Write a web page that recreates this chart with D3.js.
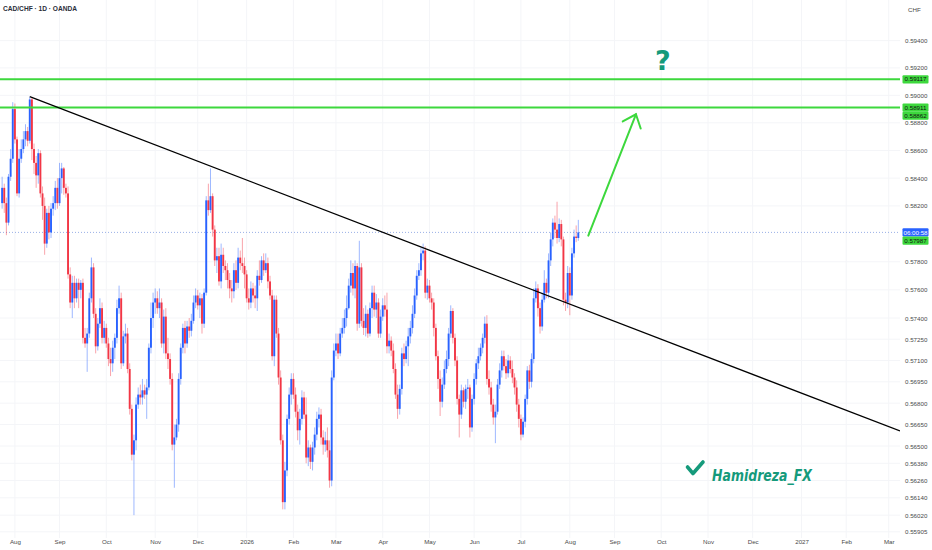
<!DOCTYPE html>
<html>
<head>
<meta charset="utf-8">
<title>CAD/CHF 1D</title>
<script src="https://cdn.jsdelivr.net/npm/d3@7"></script>
<style>
  *{margin:0;padding:0;}
  body{background:#fff;}
  svg{display:block;font-family:"Liberation Sans",Arial,sans-serif;}
  .tick text{fill:#4a4a4a;}
</style>
</head>
<body>
<svg id="chart" width="932" height="550"></svg>
<script>
// daily candles, one per trading day from 2025-07-24 to 2026-08-07
var opens = [
0.5822,0.5833,0.5822,0.5808,0.5841,0.5854,0.5890,0.5868,0.5829,0.5854,
0.5861,0.5868,0.5874,0.5867,0.5897,0.5861,0.5851,0.5842,0.5858,0.5829,
0.5820,0.5793,0.5815,0.5801,0.5818,0.5822,0.5833,0.5822,0.5840,0.5847,
0.5833,0.5829,0.5771,0.5751,0.5765,0.5754,0.5765,0.5760,0.5765,0.5726,
0.5722,0.5729,0.5754,0.5776,0.5743,0.5720,0.5736,0.5747,0.5726,0.5733,
0.5722,0.5711,0.5708,0.5719,0.5726,0.5747,0.5754,0.5708,0.5727,0.5729,
0.5704,0.5676,0.5644,0.5654,0.5679,0.5686,0.5684,0.5689,0.5686,0.5691,
0.5719,0.5740,0.5751,0.5754,0.5747,0.5751,0.5722,0.5741,0.5715,0.5711,
0.5697,0.5651,0.5656,0.5665,0.5697,0.5719,0.5733,0.5722,0.5734,0.5731,
0.5738,0.5751,0.5756,0.5749,0.5754,0.5736,0.5758,0.5824,0.5817,0.5827,
0.5803,0.5781,0.5784,0.5766,0.5785,0.5777,0.5774,0.5767,0.5761,0.5759,
0.5774,0.5765,0.5783,0.5779,0.5777,0.5771,0.5754,0.5751,0.5761,0.5756,
0.5754,0.5770,0.5767,0.5781,0.5774,0.5779,0.5766,0.5756,0.5713,0.5753,
0.5729,0.5698,0.5654,0.5611,0.5633,0.5669,0.5686,0.5697,0.5686,0.5674,
0.5661,0.5669,0.5684,0.5672,0.5642,0.5649,0.5639,0.5649,0.5658,0.5669,
0.5672,0.5656,0.5651,0.5654,0.5647,0.5626,0.5698,0.5717,0.5722,0.5715,
0.5729,0.5733,0.5740,0.5747,0.5763,0.5772,0.5761,0.5777,0.5736,0.5776,
0.5738,0.5733,0.5743,0.5729,0.5747,0.5758,0.5746,0.5751,0.5729,0.5741,
0.5749,0.5746,0.5720,0.5724,0.5717,0.5704,0.5686,0.5676,0.5690,0.5715,
0.5711,0.5720,0.5727,0.5733,0.5743,0.5756,0.5770,0.5774,0.5786,0.5788,
0.5758,0.5763,0.5754,0.5751,0.5733,0.5713,0.5697,0.5681,0.5693,0.5704,
0.5711,0.5729,0.5745,0.5726,0.5710,0.5683,0.5672,0.5689,0.5681,0.5690,
0.5691,0.5663,0.5683,0.5697,0.5708,0.5713,0.5719,0.5726,0.5736,0.5697,
0.5691,0.5679,0.5670,0.5674,0.5693,0.5703,0.5713,0.5706,0.5701,0.5710,
0.5704,0.5698,0.5691,0.5679,0.5669,0.5658,0.5667,0.5683,0.5703,0.5695,
0.5711,0.5754,0.5761,0.5747,0.5734,0.5753,0.5765,0.5758,0.5781,0.5796,
0.5808,0.5803,0.5797,0.5807,0.5796,0.5753,0.5751,0.5772,0.5756,0.5786,
0.5798,0.5797];
var highs = [
0.5841,0.5836,0.5826,0.5843,0.5861,0.5895,0.5894,0.5870,0.5861,0.5868,
0.5874,0.5879,0.5877,0.5899,0.5898,0.5865,0.5856,0.5861,0.5860,0.5834,
0.5826,0.5818,0.5820,0.5822,0.5827,0.5838,0.5840,0.5851,0.5851,0.5848,
0.5836,0.5834,0.5776,0.5770,0.5770,0.5768,0.5768,0.5767,0.5768,0.5733,
0.5733,0.5758,0.5783,0.5779,0.5747,0.5740,0.5754,0.5751,0.5738,0.5736,
0.5726,0.5719,0.5724,0.5729,0.5753,0.5763,0.5758,0.5731,0.5736,0.5733,
0.5708,0.5679,0.5658,0.5684,0.5691,0.5693,0.5697,0.5693,0.5697,0.5722,
0.5751,0.5758,0.5761,0.5759,0.5761,0.5754,0.5746,0.5747,0.5726,0.5715,
0.5701,0.5665,0.5669,0.5701,0.5722,0.5736,0.5738,0.5738,0.5740,0.5743,
0.5756,0.5761,0.5760,0.5758,0.5757,0.5761,0.5827,0.5836,0.5847,0.5829,
0.5806,0.5790,0.5790,0.5793,0.5790,0.5781,0.5779,0.5772,0.5767,0.5779,
0.5781,0.5790,0.5788,0.5797,0.5783,0.5774,0.5761,0.5766,0.5765,0.5763,
0.5774,0.5781,0.5784,0.5786,0.5786,0.5783,0.5770,0.5760,0.5756,0.5756,
0.5733,0.5703,0.5658,0.5639,0.5672,0.5691,0.5701,0.5701,0.5691,0.5679,
0.5676,0.5689,0.5688,0.5684,0.5654,0.5651,0.5653,0.5663,0.5674,0.5677,
0.5676,0.5661,0.5660,0.5663,0.5654,0.5703,0.5722,0.5729,0.5729,0.5733,
0.5740,0.5746,0.5756,0.5768,0.5781,0.5779,0.5781,0.5779,0.5795,0.5779,
0.5747,0.5749,0.5746,0.5751,0.5763,0.5763,0.5757,0.5754,0.5746,0.5754,
0.5756,0.5758,0.5729,0.5727,0.5722,0.5708,0.5693,0.5693,0.5719,0.5722,
0.5724,0.5733,0.5738,0.5749,0.5761,0.5774,0.5779,0.5790,0.5793,0.5791,
0.5768,0.5767,0.5758,0.5754,0.5736,0.5717,0.5703,0.5698,0.5710,0.5717,
0.5733,0.5749,0.5747,0.5729,0.5713,0.5686,0.5693,0.5691,0.5693,0.5697,
0.5693,0.5686,0.5701,0.5711,0.5719,0.5722,0.5729,0.5741,0.5742,0.5703,
0.5695,0.5683,0.5679,0.5697,0.5708,0.5717,0.5717,0.5711,0.5714,0.5713,
0.5710,0.5701,0.5696,0.5683,0.5672,0.5670,0.5686,0.5706,0.5707,0.5715,
0.5761,0.5766,0.5764,0.5751,0.5758,0.5774,0.5768,0.5786,0.5801,0.5811,
0.5813,0.5823,0.5811,0.5810,0.5798,0.5758,0.5777,0.5776,0.5790,0.5803,
0.5806,0.5810];
var lows = [
0.5818,0.5815,0.5799,0.5806,0.5838,0.5851,0.5865,0.5827,0.5826,0.5851,
0.5858,0.5863,0.5863,0.5865,0.5853,0.5843,0.5833,0.5836,0.5826,0.5810,
0.5785,0.5790,0.5796,0.5797,0.5813,0.5817,0.5818,0.5820,0.5829,0.5828,
0.5826,0.5768,0.5747,0.5740,0.5747,0.5751,0.5747,0.5754,0.5722,0.5719,
0.5702,0.5726,0.5751,0.5740,0.5715,0.5717,0.5733,0.5722,0.5722,0.5719,
0.5706,0.5699,0.5702,0.5711,0.5722,0.5743,0.5704,0.5706,0.5722,0.5701,
0.5672,0.5640,0.5602,0.5647,0.5676,0.5679,0.5679,0.5683,0.5669,0.5689,
0.5715,0.5733,0.5743,0.5743,0.5740,0.5719,0.5715,0.5711,0.5704,0.5693,
0.5647,0.5621,0.5654,0.5660,0.5693,0.5715,0.5715,0.5719,0.5726,0.5727,
0.5736,0.5747,0.5746,0.5740,0.5729,0.5733,0.5756,0.5813,0.5815,0.5798,
0.5777,0.5772,0.5763,0.5761,0.5772,0.5767,0.5761,0.5754,0.5751,0.5754,
0.5760,0.5761,0.5774,0.5772,0.5761,0.5751,0.5746,0.5747,0.5751,0.5747,
0.5745,0.5763,0.5765,0.5770,0.5772,0.5761,0.5753,0.5710,0.5706,0.5726,
0.5693,0.5651,0.5606,0.5606,0.5629,0.5665,0.5679,0.5683,0.5670,0.5654,
0.5651,0.5665,0.5669,0.5638,0.5636,0.5634,0.5633,0.5644,0.5654,0.5663,
0.5651,0.5644,0.5646,0.5642,0.5621,0.5622,0.5696,0.5713,0.5711,0.5713,
0.5726,0.5729,0.5734,0.5746,0.5758,0.5756,0.5754,0.5731,0.5733,0.5734,
0.5728,0.5727,0.5726,0.5727,0.5740,0.5741,0.5740,0.5726,0.5726,0.5738,
0.5741,0.5715,0.5715,0.5713,0.5701,0.5683,0.5669,0.5672,0.5686,0.5706,
0.5708,0.5706,0.5722,0.5729,0.5740,0.5753,0.5767,0.5770,0.5781,0.5754,
0.5753,0.5751,0.5746,0.5727,0.5710,0.5690,0.5671,0.5677,0.5690,0.5701,
0.5706,0.5726,0.5722,0.5706,0.5679,0.5656,0.5669,0.5677,0.5676,0.5683,
0.5656,0.5660,0.5679,0.5693,0.5704,0.5710,0.5715,0.5722,0.5693,0.5686,
0.5674,0.5665,0.5652,0.5672,0.5690,0.5698,0.5703,0.5697,0.5698,0.5701,
0.5694,0.5686,0.5674,0.5663,0.5654,0.5656,0.5663,0.5679,0.5690,0.5691,
0.5708,0.5751,0.5741,0.5729,0.5731,0.5751,0.5754,0.5754,0.5777,0.5791,
0.5797,0.5793,0.5794,0.5791,0.5749,0.5745,0.5747,0.5742,0.5753,0.5783,
0.5794,0.5795];
var closes = [
0.5833,0.5822,0.5808,0.5841,0.5854,0.5890,0.5868,0.5829,0.5854,0.5861,
0.5868,0.5874,0.5867,0.5897,0.5861,0.5851,0.5842,0.5858,0.5829,0.5820,
0.5793,0.5815,0.5801,0.5818,0.5822,0.5833,0.5822,0.5840,0.5847,0.5833,
0.5829,0.5771,0.5751,0.5765,0.5754,0.5765,0.5760,0.5765,0.5726,0.5722,
0.5729,0.5754,0.5776,0.5743,0.5720,0.5736,0.5747,0.5726,0.5733,0.5722,
0.5711,0.5708,0.5719,0.5726,0.5747,0.5754,0.5708,0.5727,0.5729,0.5704,
0.5676,0.5644,0.5654,0.5679,0.5686,0.5684,0.5689,0.5686,0.5691,0.5719,
0.5740,0.5751,0.5754,0.5747,0.5751,0.5722,0.5741,0.5715,0.5711,0.5697,
0.5651,0.5656,0.5665,0.5697,0.5719,0.5733,0.5722,0.5734,0.5731,0.5738,
0.5751,0.5756,0.5749,0.5754,0.5736,0.5758,0.5824,0.5817,0.5827,0.5803,
0.5781,0.5784,0.5766,0.5785,0.5777,0.5774,0.5767,0.5761,0.5759,0.5774,
0.5765,0.5783,0.5779,0.5777,0.5771,0.5754,0.5751,0.5761,0.5756,0.5754,
0.5770,0.5767,0.5781,0.5774,0.5779,0.5766,0.5756,0.5713,0.5753,0.5729,
0.5698,0.5654,0.5611,0.5633,0.5669,0.5686,0.5697,0.5686,0.5674,0.5661,
0.5669,0.5684,0.5672,0.5642,0.5649,0.5639,0.5649,0.5658,0.5669,0.5672,
0.5656,0.5651,0.5654,0.5647,0.5626,0.5698,0.5717,0.5722,0.5715,0.5729,
0.5733,0.5740,0.5747,0.5763,0.5772,0.5761,0.5777,0.5736,0.5776,0.5738,
0.5733,0.5743,0.5729,0.5747,0.5758,0.5746,0.5751,0.5729,0.5741,0.5749,
0.5746,0.5720,0.5724,0.5717,0.5704,0.5686,0.5676,0.5690,0.5715,0.5711,
0.5720,0.5727,0.5733,0.5743,0.5756,0.5770,0.5774,0.5786,0.5788,0.5758,
0.5763,0.5754,0.5751,0.5733,0.5713,0.5697,0.5681,0.5693,0.5704,0.5711,
0.5729,0.5745,0.5726,0.5710,0.5683,0.5672,0.5689,0.5681,0.5690,0.5691,
0.5663,0.5683,0.5697,0.5708,0.5713,0.5719,0.5726,0.5736,0.5697,0.5691,
0.5679,0.5670,0.5674,0.5693,0.5703,0.5713,0.5706,0.5701,0.5710,0.5704,
0.5698,0.5691,0.5679,0.5669,0.5658,0.5667,0.5683,0.5703,0.5695,0.5711,
0.5754,0.5761,0.5747,0.5734,0.5753,0.5765,0.5758,0.5781,0.5796,0.5808,
0.5803,0.5797,0.5807,0.5796,0.5753,0.5751,0.5772,0.5756,0.5786,0.5798,
0.5797,0.5801];

var priceTicks = [0.59400,0.59200,0.59000,0.58800,0.58600,0.58400,0.58200,0.57800,0.57600,0.57400,
                  0.57250,0.57100,0.56950,0.56800,0.56650,0.56500,0.56380,0.56260,0.56140,0.56020,0.55905];
var monthLabels = ["Aug","Sep","Oct","Nov","Dec","2026","Feb","Mar","Apr","May","Jun","Jul",
                   "Aug","Sep","Oct","Nov","Dec","2027","Feb","Mar"];
var levels = [0.59117, 0.58911];
// trend line through two highs (bar index, price), extended to the right
var trendAnchors = [{bar: 13, price: 0.5899}, {bar: 198, price: 0.5790}];
var arrowAnchors = [{bar: 275.7, price: 0.57987}, {bar: 298.1, price: 0.58862}];
var questionMark = {bar: 310.8, price: 0.5914};
var priceLabels = [
  {price: 0.58010, text: "06:00:58", fill: "#2962ff", color: "#fff", fixed: true},
  {price: 0.59117, text: "0.59117", fill: "#3dd83d", color: "#111"},
  {price: 0.58911, text: "0.58911", fill: "#3dd83d", color: "#111"},
  {price: 0.58862, text: "0.58862", fill: "#3dd83d", color: "#111"},
  {price: 0.57987, text: "0.57987", fill: "#3dd83d", color: "#111"}
];

var W = 932, H = 550, plotW = 900, plotH = 538;
var green = "#3dd83d", upColor = "#2962ff", downColor = "#f23645", teal = "#159a7b";

var svg = d3.select("#chart");
svg.append("rect").attr("width", W).attr("height", H).attr("fill", "#fff");

var x = d3.scaleLinear().domain([-1, 422.3]).range([0, plotW]);
var y = d3.scaleLog().domain([0.594, 0.55905]).range([40.6, 531.8]);

// weekday calendar for the time axis
var days = [];
for (var d = new Date(Date.UTC(2025, 6, 24)); d <= new Date(Date.UTC(2027, 2, 31)); d.setUTCDate(d.getUTCDate() + 1)) {
  if (d.getUTCDay() !== 0 && d.getUTCDay() !== 6) days.push(new Date(d));
}
var monthStarts = [];
days.forEach(function (dd, i) {
  if (i > 0 && dd.getUTCMonth() !== days[i - 1].getUTCMonth()) monthStarts.push(i);
});

svg.append("clipPath").attr("id", "plotClip")
  .append("rect").attr("width", plotW).attr("height", plotH);

// grid
var grid = svg.append("g").attr("clip-path", "url(#plotClip)");
grid.selectAll(".hg").data(priceTicks).enter().append("line")
  .attr("x1", 0).attr("x2", plotW)
  .attr("y1", function (d) { return y(d); }).attr("y2", function (d) { return y(d); })
  .attr("stroke", "#f4f5f8").attr("stroke-width", 1);
grid.selectAll(".vg").data(monthStarts).enter().append("line")
  .attr("x1", function (d) { return x(d); }).attr("x2", function (d) { return x(d); })
  .attr("y1", 0).attr("y2", plotH)
  .attr("stroke", "#f4f5f8").attr("stroke-width", 1);

var plot = svg.append("g").attr("clip-path", "url(#plotClip)");

// last price dotted line
var lastClose = closes[closes.length - 1];
plot.append("line")
  .attr("x1", 0).attr("x2", plotW)
  .attr("y1", y(lastClose)).attr("y2", y(lastClose))
  .attr("stroke", "#7f9be0").attr("stroke-width", 0.8).attr("stroke-dasharray", "1,2");

// candles
var candles = d3.range(closes.length).map(function (i) {
  return {i: i, o: opens[i], h: highs[i], l: lows[i], c: closes[i]};
});
var cg = plot.append("g");
cg.selectAll(".wick").data(candles).enter().append("line")
  .attr("x1", function (d) { return x(d.i); }).attr("x2", function (d) { return x(d.i); })
  .attr("y1", function (d) { return y(d.h); }).attr("y2", function (d) { return y(d.l); })
  .attr("stroke", function (d) { return d.c >= d.o ? upColor : downColor; })
  .attr("stroke-opacity", 0.45).attr("stroke-width", 1);
cg.selectAll(".body").data(candles).enter().append("rect")
  .attr("x", function (d) { return x(d.i) - 0.95; })
  .attr("width", 1.9)
  .attr("y", function (d) { return y(Math.max(d.o, d.c)); })
  .attr("height", function (d) { return Math.max(1, Math.abs(y(d.o) - y(d.c))); })
  .attr("fill", function (d) { return d.c >= d.o ? upColor : downColor; });

// horizontal levels
plot.selectAll(".level").data(levels).enter().append("line")
  .attr("x1", 0).attr("x2", plotW)
  .attr("y1", function (d) { return y(d); }).attr("y2", function (d) { return y(d); })
  .attr("stroke", green).attr("stroke-width", 2);

// trend line
var t1 = [x(trendAnchors[0].bar), y(trendAnchors[0].price)];
var t2 = [x(trendAnchors[1].bar), y(trendAnchors[1].price)];
var slope = (t2[1] - t1[1]) / (t2[0] - t1[0]);
plot.append("line")
  .attr("x1", t1[0]).attr("y1", t1[1])
  .attr("x2", plotW).attr("y2", t1[1] + (plotW - t1[0]) * slope)
  .attr("stroke", "#000").attr("stroke-width", 1.3);

// arrow
var a1 = [x(arrowAnchors[0].bar), y(arrowAnchors[0].price)];
var a2 = [x(arrowAnchors[1].bar), y(arrowAnchors[1].price)];
var ang = Math.atan2(a1[1] - a2[1], a1[0] - a2[0]);
var headLen = 15, spread = 40 * Math.PI / 180;
var arrow = plot.append("g").attr("stroke", green).attr("stroke-width", 2).attr("stroke-linecap", "round").attr("fill", "none");
arrow.append("line").attr("x1", a1[0]).attr("y1", a1[1]).attr("x2", a2[0]).attr("y2", a2[1]);
arrow.append("polyline").attr("points", [
  [a2[0] + headLen * Math.cos(ang - spread), a2[1] + headLen * Math.sin(ang - spread)],
  a2,
  [a2[0] + headLen * Math.cos(ang + spread), a2[1] + headLen * Math.sin(ang + spread)]
].map(function (p) { return p.join(","); }).join(" "));

// question mark
plot.append("text")
  .attr("x", x(questionMark.bar)).attr("y", y(questionMark.price) - 6)
  .attr("text-anchor", "middle")
  .attr("font-family", "'DejaVu Sans', sans-serif").attr("font-weight", "bold").attr("font-size", 27)
  .attr("fill", teal).text("?");

// watermark
var wm = svg.append("g");
wm.append("polyline").attr("points", "687.5,467 693,473.5 703,462")
  .attr("fill", "none").attr("stroke", teal).attr("stroke-width", 3.6)
  .attr("stroke-linecap", "round").attr("stroke-linejoin", "round");
wm.append("text").attr("x", 712).attr("y", 480.5)
  .attr("font-family", "'DejaVu Sans', sans-serif").attr("font-weight", "bold").attr("font-style", "italic")
  .attr("font-size", 16.5).attr("textLength", 100).attr("lengthAdjust", "spacingAndGlyphs")
  .attr("fill", teal).text("Hamidreza_FX");

// title
svg.append("text").attr("x", 3).attr("y", 11)
  .attr("font-size", 6.6).attr("font-weight", "bold").attr("fill", "#2a2e39")
  .text("CAD/CHF · 1D · OANDA");

// price axis
var yAxis = d3.axisRight(y).tickValues(priceTicks).tickSize(0).tickPadding(0)
  .tickFormat(d3.format(".5f"));
var ya = svg.append("g").attr("transform", "translate(905,0)").call(yAxis);
ya.select(".domain").remove();
ya.selectAll("text").attr("font-size", 6.2).attr("font-family", "'Liberation Sans', Arial, sans-serif");
svg.append("text").attr("x", 908).attr("y", 11.5).attr("font-size", 6.2).attr("fill", "#4a4a4a").text("CHF");

// time axis
var xAxis = d3.axisBottom(x).tickValues(monthStarts).tickSize(0).tickPadding(0)
  .tickFormat(function (d, i) { return monthLabels[i]; });
var xa = svg.append("g").attr("transform", "translate(0,540)").call(xAxis);
xa.select(".domain").remove();
xa.selectAll("text").attr("font-size", 6.2).attr("font-family", "'Liberation Sans', Arial, sans-serif");

// axis price labels, pushed apart when they overlap
var boxH = 8.2, placed = [];
priceLabels.forEach(function (p) { p.cy = y(p.price); });
priceLabels.filter(function (p) { return p.fixed; }).forEach(function (p) { placed.push(p); });
priceLabels.filter(function (p) { return !p.fixed; })
  .sort(function (a, b) { return a.cy - b.cy; })
  .forEach(function (p) {
    placed.forEach(function (q) {
      if (Math.abs(p.cy - q.cy) < boxH) p.cy = q.cy + boxH;
    });
    placed.push(p);
  });
var lg = svg.append("g").selectAll("g").data(priceLabels).enter().append("g")
  .attr("transform", function (d) { return "translate(902.5," + d.cy + ")"; });
lg.append("rect").attr("x", 0).attr("y", -boxH / 2).attr("width", 26).attr("height", boxH)
  .attr("rx", 1).attr("fill", function (d) { return d.fill; });
lg.append("text").attr("x", 13).attr("y", 2.2).attr("text-anchor", "middle")
  .attr("font-size", 6.2).attr("fill", function (d) { return d.color; })
  .text(function (d) { return d.text; });
</script>
</body>
</html>
